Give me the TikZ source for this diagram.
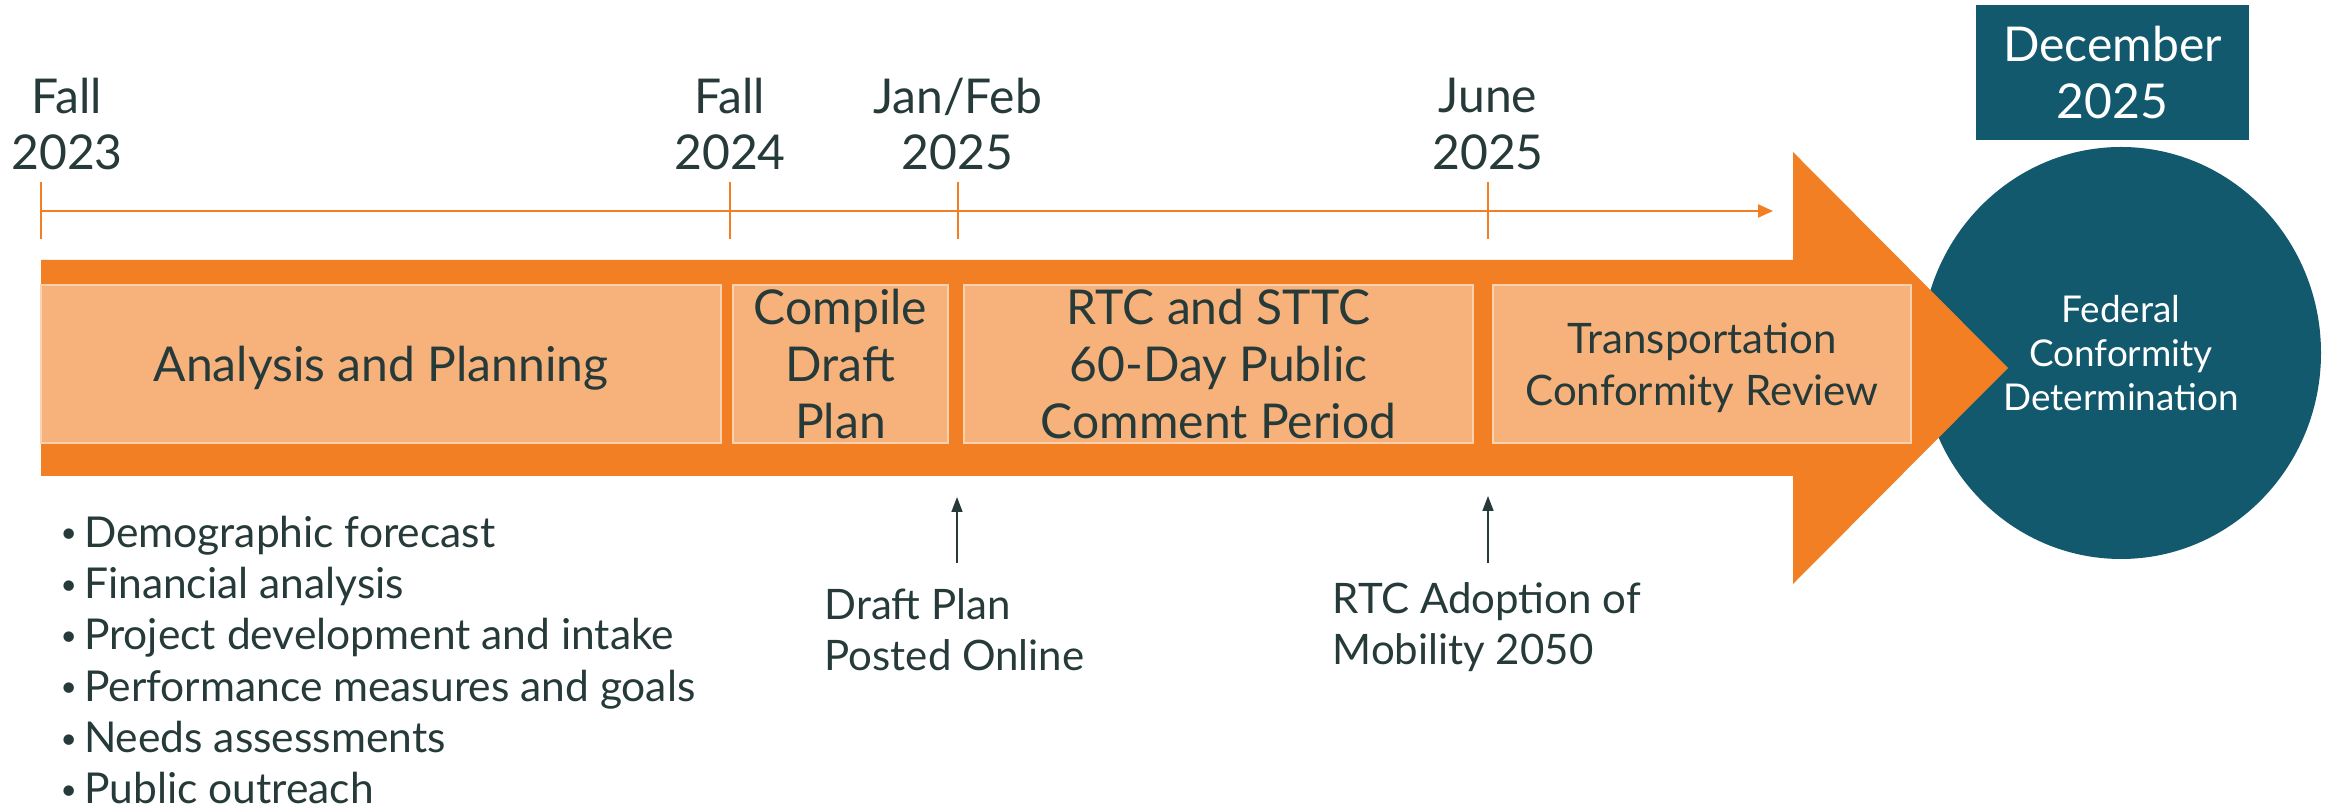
\documentclass[tikz,border=0pt]{standalone}
\usepackage{fontspec}
\setmainfont{Lato}
\usetikzlibrary{arrows.meta}
\usetikzlibrary{shapes.geometric}
\definecolor{mporange}{HTML}{F37F24}
\definecolor{mppeach}{HTML}{F7B27B}
\definecolor{mpedge}{HTML}{FBD2B0}
\definecolor{mpteal}{HTML}{12596D}
\definecolor{mpink}{HTML}{263A3A}
\newcommand{\dotitem}{\raisebox{1.2pt}{\fontsize{8}{8}\selectfont•}\,}
\tikzset{
  date/.style= {align=center, inner sep=0, text=mpink, font=\fontsize{13.66}{16.2}\selectfont},
  stage/.style= {draw=mpedge, line width=0.2mm, fill=mppeach, text=mpink, align=center, inner sep=0, minimum height=15.8mm, font=\fontsize{13.66}{16.2}\selectfont},
  note/.style= {align=left, inner sep=0, text=mpink, font=\fontsize{11.95}{14.6}\selectfont},
  tick/.style= {draw=mporange, line width=0.13mm},
  timeline/.style= {draw=mporange, line width=0.22mm, -{Triangle[length=1.5mm, width=1.3mm]}},
  pointer/.style= {draw=mpink, line width=0.15mm, -{Triangle[length=1.5mm, width=1.1mm]}},
}

\begin{document}
\begin{tikzpicture}[x=0.1mm, y=-0.1mm]
  \useasboundingbox [fill=white] (0,0) rectangle (2333,806);

  \node [ellipse, fill=mpteal, minimum width=40mm, minimum height=41.2mm, inner sep=0, align=center, text=white, font=\fontsize{10.5}{12.6}\selectfont] (goal) at (2121,353) {Federal\\Conformity\\Determination};
  \node [fill=mpteal, minimum width=27.3mm, minimum height=13.5mm, inner sep=0, align=center, text=white, font=\fontsize{13.66}{16.2}\selectfont] (deadline) at (2112.5,72.5) {December\\2025};

  \fill [mporange] (41,260) -- (1793,260) -- (1793,152) -- (2008,368) -- (1793,584) -- (1793,476) -- (41,476) -- cycle;

  \node [stage, minimum width=68mm, text depth=0pt] (analysis) at (381,364) {Analysis and Planning};
  \node [stage, minimum width=21.5mm] (compile) at (840.5,364) {Compile\\Draft\\Plan};
  \node [stage, minimum width=50.9mm] (comment) at (1218.5,364) {RTC and STTC\\60-Day Public\\Comment Period};
  \node [stage, minimum width=41.8mm, text depth=0pt, font=\fontsize{11.95}{14.8}\selectfont] (review) at (1702,364) {Transportation\\Conformity Review};

  \coordinate (t0) at (41,211);
  \coordinate (t1) at (1773,211);
  \draw [timeline] (t0) -- (t1);
  \foreach \x in {41,730,958,1488}
    \draw [tick] (\x,182) -- (\x,239);

  \node [date] (fall23) at (67,124) {Fall\\2023};
  \node [date] (fall24) at (730,124) {Fall\\2024};
  \node [date] (janfeb) at (957.5,124) {Jan/Feb\\2025};
  \node [date] (june) at (1488,124) {June\\2025};

  \coordinate (postfoot) at (957,563);
  \coordinate (posttip) at (957,497);
  \coordinate (adoptfoot) at (1488,563);
  \coordinate (adopttip) at (1488,496);
  \draw [pointer] (postfoot) -- (posttip);
  \draw [pointer] (adoptfoot) -- (adopttip);

  \node [note, anchor=west] (posted) at (824,630) {Draft Plan\\Posted Online};
  \node [note, anchor=west] (adopt) at (1332,627) {RTC Adoption of\\Mobility 2050};
  \node [note, anchor=west, font=\fontsize{12.1}{14.6}\selectfont] (tasks) at (60,660) {\dotitem Demographic forecast\\\dotitem Financial analysis\\\dotitem Project development and intake\\\dotitem Performance measures and goals\\\dotitem Needs assessments\\\dotitem Public outreach};
\end{tikzpicture}
\end{document}
